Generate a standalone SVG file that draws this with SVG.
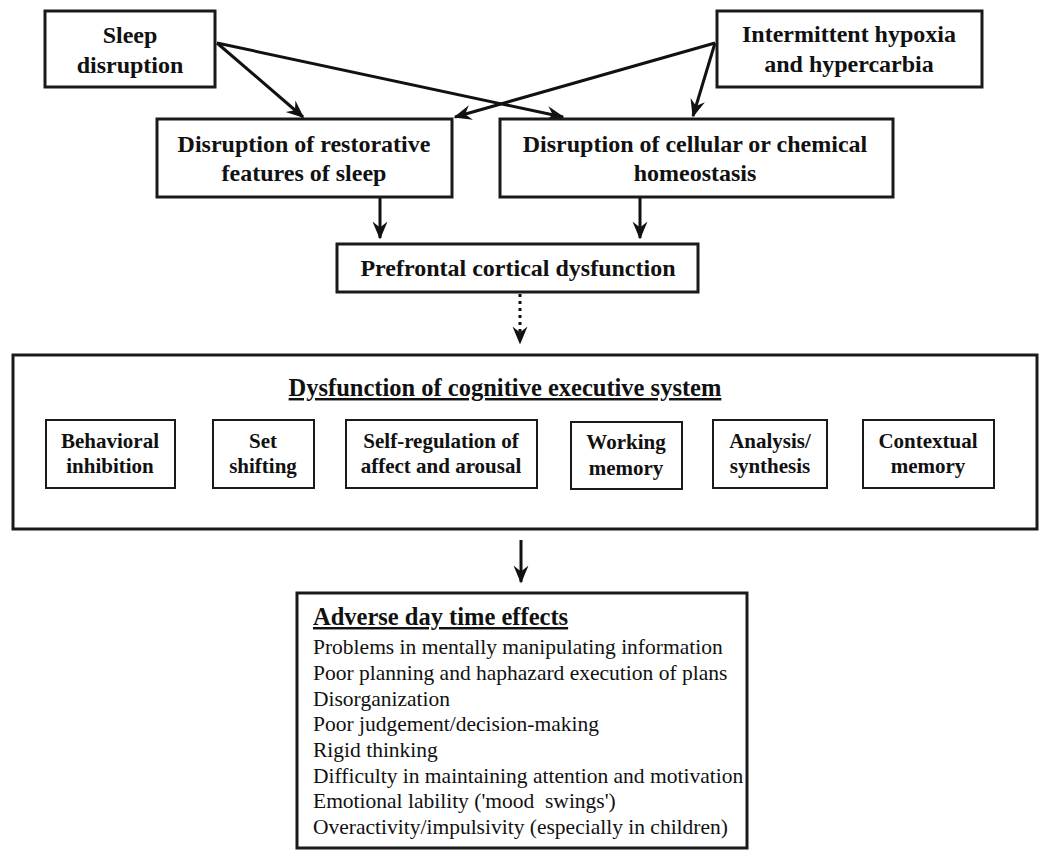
<svg xmlns="http://www.w3.org/2000/svg" width="1050" height="859" viewBox="0 0 1050 859">
<style>
.box{fill:#fff;stroke:#1a1a1a;stroke-width:3}
.ibox{fill:#fff;stroke:#1a1a1a;stroke-width:2}
.t{font-family:"Liberation Serif","Times New Roman",serif;font-weight:bold;font-size:24px;fill:#111;text-anchor:middle}
.ts{font-family:"Liberation Serif","Times New Roman",serif;font-weight:bold;font-size:24.5px;fill:#111;text-anchor:start;text-decoration:underline}
.s{font-family:"Liberation Serif","Times New Roman",serif;font-weight:bold;font-size:21px;fill:#111;text-anchor:middle}
.l{font-family:"Liberation Serif","Times New Roman",serif;font-size:21.5px;fill:#111}
.c{stroke:#111;stroke-width:3;fill:none}
</style>
<defs>
<marker id="ah" viewBox="0 0 12 10" refX="11" refY="5" markerWidth="6" markerHeight="6" orient="auto" markerUnits="strokeWidth">
<path d="M0,0 L12,5 L0,10 L4,5 z" fill="#111"/>
</marker>
</defs>
<rect width="1050" height="859" fill="#fff"/>
<g id="connectors">
<line class="c" x1="217" y1="43" x2="303" y2="117" marker-end="url(#ah)"/>
<line class="c" x1="217" y1="43" x2="563" y2="117" marker-end="url(#ah)"/>
<line class="c" x1="715" y1="43" x2="455" y2="117" marker-end="url(#ah)"/>
<line class="c" x1="715" y1="43" x2="693" y2="116" marker-end="url(#ah)"/>
<line class="c" x1="380" y1="198" x2="380" y2="238" marker-end="url(#ah)"/>
<line class="c" x1="640" y1="198" x2="640" y2="238" marker-end="url(#ah)"/>
<line class="c" x1="520" y1="294" x2="520" y2="343" stroke-dasharray="3,4" marker-end="url(#ah)"/>
<line class="c" x1="521" y1="540" x2="521" y2="582" marker-end="url(#ah)"/>
</g>
<g id="sleep">
<rect class="box" x="45" y="11" width="170" height="76"/>
<text class="t" x="130" y="43">Sleep</text>
<text class="t" x="130" y="73">disruption</text>
</g>
<g id="hypoxia">
<rect class="box" x="717" y="11" width="265" height="76"/>
<text class="t" x="849" y="42">Intermittent hypoxia</text>
<text class="t" x="849" y="72">and hypercarbia</text>
</g>
<g id="restorative">
<rect class="box" x="157" y="119" width="295" height="78"/>
<text class="t" x="304" y="152">Disruption of restorative</text>
<text class="t" x="304" y="181">features of sleep</text>
</g>
<g id="cellular">
<rect class="box" x="500" y="119" width="393" height="78"/>
<text class="t" x="695" y="152">Disruption of cellular or chemical</text>
<text class="t" x="695" y="181">homeostasis</text>
</g>
<g id="prefrontal">
<rect class="box" x="337" y="244" width="361" height="48"/>
<text class="t" x="518" y="276">Prefrontal cortical dysfunction</text>
</g>
<g id="executive">
<rect class="box" x="13" y="355" width="1024" height="174"/>
<text class="t" x="505" y="396" style="font-size:24.5px;text-decoration:underline">Dysfunction of cognitive executive system</text>
</g>
<g id="behavioral">
<rect class="ibox" x="46" y="420" width="129" height="68"/>
<text class="s" x="110" y="448">Behavioral</text>
<text class="s" x="110" y="473">inhibition</text>
</g>
<g id="set">
<rect class="ibox" x="213" y="420" width="101" height="68"/>
<text class="s" x="263" y="448">Set</text>
<text class="s" x="263" y="473">shifting</text>
</g>
<g id="selfreg">
<rect class="ibox" x="346" y="420" width="191" height="68"/>
<text class="s" x="441" y="448">Self-regulation of</text>
<text class="s" x="441" y="473">affect and arousal</text>
</g>
<g id="working">
<rect class="ibox" x="571" y="422" width="111" height="67"/>
<text class="s" x="626" y="449">Working</text>
<text class="s" x="626" y="475">memory</text>
</g>
<g id="analysis">
<rect class="ibox" x="713" y="420" width="114" height="68"/>
<text class="s" x="770" y="448">Analysis/</text>
<text class="s" x="770" y="473">synthesis</text>
</g>
<g id="contextual">
<rect class="ibox" x="863" y="420" width="131" height="68"/>
<text class="s" x="928" y="448">Contextual</text>
<text class="s" x="928" y="473">memory</text>
</g>
<g id="adverse">
<rect class="box" x="297" y="593" width="450" height="255"/>
<text class="ts" x="313" y="625">Adverse day time effects</text>
<text class="l" x="313" y="654">Problems in mentally manipulating information</text>
<text class="l" x="313" y="680">Poor planning and haphazard execution of plans</text>
<text class="l" x="313" y="706">Disorganization</text>
<text class="l" x="313" y="731">Poor judgement/decision-making</text>
<text class="l" x="313" y="757">Rigid thinking</text>
<text class="l" x="313" y="783">Difficulty in maintaining attention and motivation</text>
<text class="l" x="313" y="808">Emotional lability ('mood&#160; swings')</text>
<text class="l" x="313" y="834">Overactivity/impulsivity (especially in children)</text>
</g>
</svg>
